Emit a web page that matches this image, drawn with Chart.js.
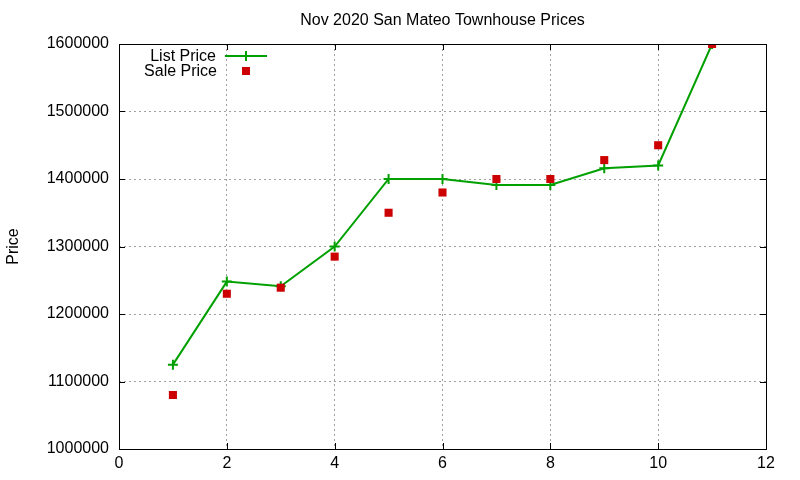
<!DOCTYPE html>
<html>
<head>
<meta charset="utf-8">
<script src="https://cdn.jsdelivr.net/npm/chart.js@4.4.1/dist/chart.umd.min.js"></script>
<style>
  html, body { margin: 0; padding: 0; background: #fff; }
  #wrap { width: 800px; height: 480px; }
</style>
</head>
<body>
<div id="wrap"><canvas id="grafico" width="800" height="480"></canvas></div>
<script>
const meses = [1, 2, 3, 4, 5, 6, 7, 8, 9, 10, 11]
const precoLista = [1125000, 1248000, 1241000, 1300000, 1400000, 1400000, 1391000, 1391000, 1416000, 1420000, 1600000]
const precoVenda = [1080000, 1230000, 1239000, 1285000, 1350000, 1380000, 1400000, 1400000, 1428000, 1450000, 1600000]
const ticksX = [0, 2, 4, 6, 8, 10, 12]
const ticksY = [1000000, 1100000, 1200000, 1300000, 1400000, 1500000, 1600000]
const titulo = 'Nov 2020 San Mateo Townhouse Prices'

const VERDE = '#00a000'
const VERMELHO = '#cc0000'
const FONTE = '"Liberation Sans", Arial, sans-serif'

Chart.defaults.font.family = FONTE
Chart.defaults.color = '#000'

// Moldura, marcas internas, título e legenda no estilo gnuplot
const molduraPlugin = {
  id: 'moldura',
  afterDraw(chart) {
    const { ctx, chartArea: a, scales } = chart
    ctx.save()
    ctx.strokeStyle = '#000'
    ctx.lineWidth = 1
    ctx.strokeRect(a.left + 0.5, a.top + 0.5, a.right - a.left, a.bottom - a.top)
    ctx.beginPath()
    ticksX.forEach(v => {
      const x = Math.round(scales.x.getPixelForValue(v)) + 0.5
      ctx.moveTo(x, a.bottom); ctx.lineTo(x, a.bottom - 6)
      ctx.moveTo(x, a.top); ctx.lineTo(x, a.top + 6)
    })
    ticksY.forEach(v => {
      const y = Math.round(scales.y.getPixelForValue(v)) + 0.5
      ctx.moveTo(a.left, y); ctx.lineTo(a.left + 6, y)
      ctx.moveTo(a.right, y); ctx.lineTo(a.right - 6, y)
    })
    ctx.stroke()

    ctx.font = '16px ' + FONTE
    ctx.fillStyle = '#000'
    ctx.textBaseline = 'middle'

    // título centrado sobre a área do gráfico
    ctx.textAlign = 'center'
    ctx.fillText(titulo, (a.left + a.right) / 2, 21)

    // legenda
    ctx.textAlign = 'right'
    ctx.fillText('List Price', 216, 57)
    ctx.fillText('Sale Price', 217, 72)
    ctx.strokeStyle = VERDE
    ctx.lineWidth = 2
    ctx.beginPath()
    ctx.moveTo(225, 56); ctx.lineTo(267, 56)
    ctx.moveTo(246, 51); ctx.lineTo(246, 61)
    ctx.stroke()
    ctx.fillStyle = VERMELHO
    ctx.fillRect(242, 67, 8, 8)
    ctx.restore()
  }
}

new Chart(document.getElementById('grafico'), {
  type: 'scatter',
  data: {
    datasets: [
      {
        label: 'List Price',
        data: meses.map((m, i) => ({ x: m, y: precoLista[i] })),
        showLine: true,
        borderColor: VERDE,
        backgroundColor: VERDE,
        borderWidth: 2,
        pointStyle: 'cross',
        pointRadius: 5,
        pointBorderWidth: 2,
        order: 2
      },
      {
        label: 'Sale Price',
        data: meses.map((m, i) => ({ x: m, y: precoVenda[i] })),
        showLine: false,
        borderColor: VERMELHO,
        backgroundColor: VERMELHO,
        pointStyle: 'rect',
        pointRadius: 5.7,
        pointBorderWidth: 0,
        order: 1
      }
    ]
  },
  options: {
    responsive: false,
    animation: false,
    layout: { padding: { right: 34, left: 4, bottom: 0, top: 44 } },
    plugins: {
      legend: { display: false },
      tooltip: { enabled: false },
      title: { display: false }
    },
    scales: {
      x: {
        type: 'linear',
        min: 0,
        max: 12,
        afterBuildTicks: s => { s.ticks = ticksX.map(v => ({ value: v })) },
        afterFit: s => { s.height = 31 },
        ticks: { font: { size: 16 }, padding: 5, color: '#000' },
        grid: { color: '#a0a0a0', drawTicks: false },
        border: { display: false, dash: [2, 3] }
      },
      y: {
        min: 1000000,
        max: 1600000,
        afterBuildTicks: s => { s.ticks = ticksY.map(v => ({ value: v })) },
        afterFit: s => { s.width = 115 },
        ticks: { font: { size: 16 }, padding: 10, color: '#000', callback: v => String(v) },
        grid: { color: '#a0a0a0', drawTicks: false },
        border: { display: false, dash: [2, 3] },
        title: { display: true, text: 'Price', font: { size: 16 }, color: '#000', padding: { top: 0, bottom: 0 } }
      }
    }
  },
  plugins: [molduraPlugin]
})
</script>
</body>
</html>
